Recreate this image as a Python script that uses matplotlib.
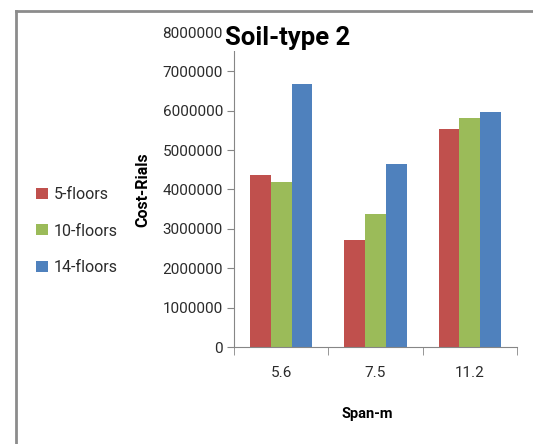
import matplotlib
matplotlib.use("Agg")
import matplotlib.pyplot as plt
import numpy as np
from matplotlib.lines import Line2D

plt.rcParams['font.family'] = ['Roboto', 'DejaVu Sans']

categories = ["5.6", "7.5", "11.2"]
series_names = ["5-floors", "10-floors", "14-floors"]
floors5 = [4380000, 2720000, 5540000]
floors10 = [4200000, 3390000, 5820000]
floors14 = [6690000, 4640000, 5960000]
colors = ["#C0504D", "#9BBB59", "#4F81BD"]
yticks = [0, 1000000, 2000000, 3000000, 4000000, 5000000, 6000000, 7000000, 8000000]

W, H = 533, 444
fig = plt.figure(figsize=(W / 100, H / 100), dpi=100)
ax = fig.add_axes([234 / W, 1 - 347 / H, (517 - 234) / W, (347 - 32) / H])

x = np.arange(len(categories))
bw = 0.22
handles = []
for i, (vals, name, c) in enumerate(zip([floors5, floors10, floors14], series_names, colors)):
    b = ax.bar(x + (i - 1) * bw, vals, width=bw, color=c, label=name, zorder=2)
    handles.append(b)

ax.set_xlim(-0.5, len(categories) - 0.5)
ax.set_ylim(0, 8000000)
ax.set_yticks(yticks)
ax.set_yticklabels([str(v) for v in yticks])
ax.set_xticks(x)
ax.set_xticklabels(categories)
ax.set_xticks(np.arange(len(categories) + 1) - 0.5, minor=True)
ax.tick_params(axis='x', which='major', length=0, pad=14, labelsize=11, labelcolor='#2b2b2b')
ax.tick_params(axis='x', which='minor', length=6, color='#868686', direction='out')
ax.tick_params(axis='y', length=5, color='#868686', labelsize=11, labelcolor='#2b2b2b', pad=3)

for s in ['top', 'right']:
    ax.spines[s].set_visible(False)
for s in ['left', 'bottom']:
    ax.spines[s].set_color('#868686')

fig.text(288 / W, 1 - 38 / H, "Soil-type 2", ha='center', va='center', fontsize=18.5,
         fontweight='bold', color='black', bbox=dict(facecolor='white', edgecolor='none', pad=1), zorder=5)
fig.text(143 / W, 1 - 190 / H, "Cost-Rials", rotation=90, ha='center', va='center',
         fontsize=11.5, fontweight='bold', color='black')
fig.text(367 / W, 1 - 414 / H, "Span-m", ha='center', va='center',
         fontsize=10.5, fontweight='bold', color='black')

fig.legend(handles=handles, labels=series_names, loc='center left',
           bbox_to_anchor=(22 / W, 1 - 231 / H), frameon=False, fontsize=11.5,
           handlelength=0.7, handleheight=0.7, handletextpad=0.4, labelspacing=1.35,
           labelcolor='#2b2b2b')

fig.add_artist(Line2D([16 / W, 1], [1 - 11 / H, 1 - 11 / H], color='#8c8c8c', lw=2, transform=fig.transFigure))
fig.add_artist(Line2D([16 / W, 16 / W], [0, 1 - 11 / H], color='#8c8c8c', lw=2, transform=fig.transFigure))

fig.savefig("out.png", dpi=100)
